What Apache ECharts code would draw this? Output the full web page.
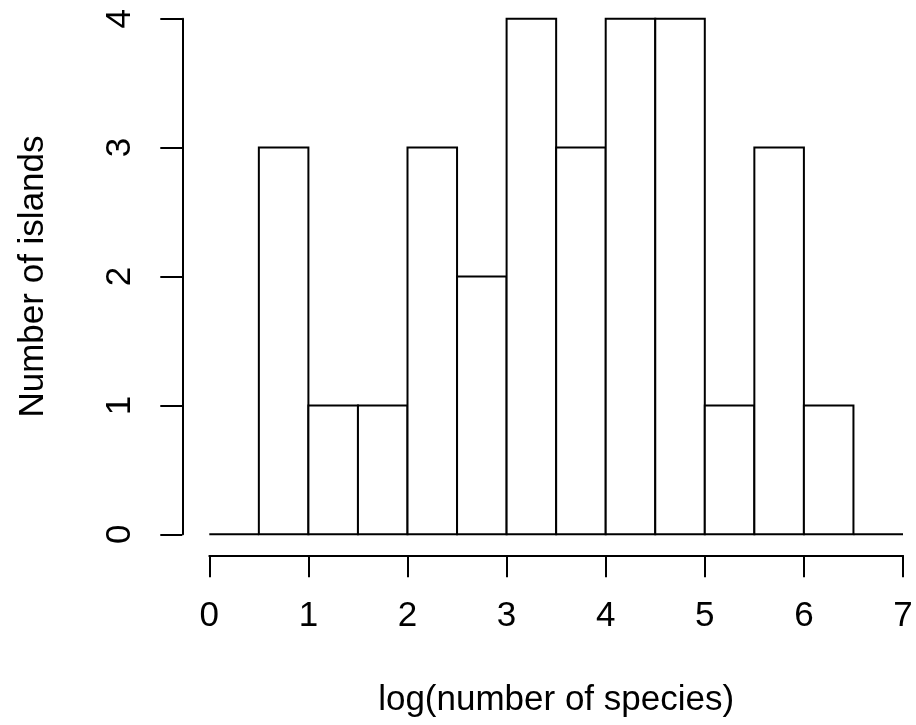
<!DOCTYPE html>
<html>
<head>
<meta charset="utf-8">
<script src="https://cdn.jsdelivr.net/npm/echarts@6/dist/echarts.min.js"></script>
<style>
  html, body { margin: 0; padding: 0; background: #fff; }
  #chart { width: 916px; height: 725px; }
</style>
</head>
<body>
<div id="chart"></div>
<script>
// Histogram bins: left edge of each bin (width 0.5) and its count
const binWidth = 0.5;
const binStarts = [0, 0.5, 1, 1.5, 2, 2.5, 3, 3.5, 4, 4.5, 5, 5.5, 6, 6.5];
const counts    = [0, 3,   1, 1,   3, 2,   4, 3,   4, 4,   1, 3,   1, 0];

// Axis ranges and tick labels
const xTicks = ['0', '1', '2', '3', '4', '5', '6', '7'];
const yTicks = ['0', '1', '2', '3', '4'];

const xTitle = 'log(number of species)';
const yTitle = 'Number of islands';

const FONT = '"Liberation Sans", Arial, Helvetica, sans-serif';

const bins = binStarts.map((s, i) => [s, s + binWidth, counts[i]]);

const chart = echarts.init(document.getElementById('chart'), null, { renderer: 'canvas' });

const axisText = { color: '#000', fontSize: 35, fontFamily: FONT };

chart.setOption({
  animation: false,
  backgroundColor: '#fff',
  grid: { left: 209.3, top: 18.7, width: 693.7, height: 515.6, containLabel: false },
  xAxis: {
    type: 'value',
    min: 0,
    max: xTicks.length - 1,
    interval: 1,
    offset: 21,
    splitLine: { show: false },
    axisLine: { show: true, onZero: false, lineStyle: { color: '#000', width: 2 } },
    axisTick: { show: true, length: 22, lineStyle: { color: '#000', width: 2 } },
    axisLabel: Object.assign({ margin: 44, formatter: v => xTicks[Math.round(v)] }, axisText),
    name: xTitle,
    nameLocation: 'middle',
    nameGap: 128,
    nameTextStyle: axisText
  },
  yAxis: {
    type: 'value',
    min: 0,
    max: yTicks.length - 1,
    interval: 1,
    offset: 27,
    splitLine: { show: false },
    axisLine: { show: true, onZero: false, lineStyle: { color: '#000', width: 2 } },
    axisTick: { show: true, length: 22, lineStyle: { color: '#000', width: 2 } },
    axisLabel: Object.assign({ margin: 44, rotate: 90, formatter: v => yTicks[Math.round(v)] }, axisText),
    name: yTitle,
    nameLocation: 'middle',
    nameGap: 131,
    nameTextStyle: axisText
  },
  series: [{
    type: 'custom',
    data: bins,
    encode: { x: [0, 1], y: 2 },
    renderItem: function (params, api) {
      const p0 = api.coord([api.value(0), 0]);
      const p1 = api.coord([api.value(1), api.value(2)]);
      return {
        type: 'rect',
        shape: { x: p0[0], y: p1[1], width: p1[0] - p0[0], height: p0[1] - p1[1] },
        style: { fill: '#fff', stroke: '#000', lineWidth: 2 }
      };
    }
  }]
});
</script>
</body>
</html>
